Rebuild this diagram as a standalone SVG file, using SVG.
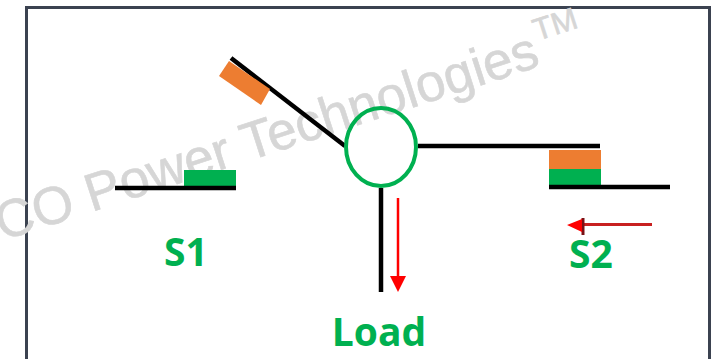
<svg xmlns="http://www.w3.org/2000/svg" width="715" height="359" viewBox="0 0 715 359">
<style>
.wire{stroke:#000;stroke-width:4.500;fill:none}
.lbl{font-family:"Open Sans","Noto Sans",sans-serif;font-weight:700;fill:#00b050;font-size:39px;text-anchor:middle}
.wm{font-family:"Liberation Sans",Arial,sans-serif;fill:#d6d6d6;stroke:#d6d6d6;stroke-width:.6}
.or{fill:#ed7d31}
.gr{fill:#00b050}
</style>
<rect width="715" height="359" fill="#fff"/>
<path d="M26.500 359V7.500H709.500V359" fill="none" stroke="#3b4250" stroke-width="3"/>
<g id="watermark" class="wm">
<text transform="translate(2 241) rotate(-18)" font-size="53">CO Power Technologies</text>
<text transform="translate(537 41) rotate(-18)" font-size="31">TM</text>
</g>
<g id="connectors">
<path class="wire" d="M231 58 345 146"/>
<path class="wire" d="M418 146H600"/>
<path class="wire" d="M381 188V292"/>
<path d="M398 198V277" stroke="#f00" stroke-width="2.500" fill="none"/>
<path d="M390 276H406L398 292Z" fill="#f00"/>
<path d="M652 224.500H582" stroke="#c82020" stroke-width="3" fill="none"/>
<path d="M583 218V235" stroke="#7a1015" stroke-width="3" fill="none"/>
<path d="M582 219V232L567 225Z" fill="#f00"/>
</g>
<g id="S1">
<rect class="gr" x="184" y="170" width="52" height="17"/>
<path class="wire" d="M115 188H236"/>
<text class="lbl" x="186" y="266">S1</text>
</g>
<g id="actuator">
<path class="or" d="M229 61 270 89 261 105 219 76Z"/>
</g>
<g id="junction">
<ellipse cx="381" cy="147" rx="35" ry="39" fill="none" stroke="#00b050" stroke-width="4"/>
</g>
<g id="S2">
<rect class="or" x="549" y="150" width="52" height="19"/>
<rect class="gr" x="549" y="169" width="52" height="16"/>
<path class="wire" d="M549 187H670"/>
<text class="lbl" x="591" y="268">S2</text>
</g>
<g id="Load">
<text class="lbl" x="379" y="346">Load</text>
</g>
</svg>
